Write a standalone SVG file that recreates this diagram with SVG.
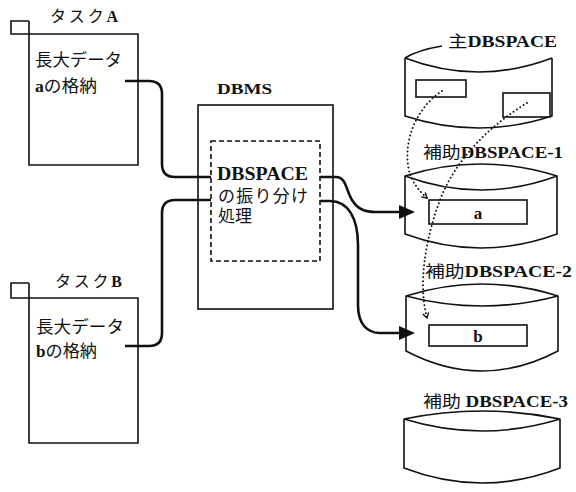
<svg xmlns="http://www.w3.org/2000/svg" width="576" height="492" viewBox="0 0 576 492">
  <style>
    text { font-family: "Liberation Serif", "Noto Sans CJK JP", serif; fill: #111; }
    .lat { font-weight: bold; }
    .box { fill: none; stroke: #111; stroke-width: 1.6; }
    .dash { fill: none; stroke: #111; stroke-width: 1.6; stroke-dasharray: 5 3; }
    .cyl { fill: none; stroke: #111; stroke-width: 1.6; stroke-linejoin: round; }
    .wire { fill: none; stroke: #111; stroke-width: 2.6; }
    .dots { fill: none; stroke: #111; stroke-width: 2; stroke-dasharray: 0 4; stroke-linecap: round; }
  </style>
  <defs>
    <marker id="head" viewBox="0 0 16 14" refX="2" refY="7" markerWidth="16" markerHeight="14" markerUnits="userSpaceOnUse" orient="auto">
      <path d="M0,0 L16,7 L0,14 z" fill="#111"/>
    </marker>
    <marker id="vee" viewBox="0 0 8 8" refX="6" refY="4" markerWidth="8" markerHeight="8" markerUnits="userSpaceOnUse" orient="auto">
      <path d="M1,1 L6,4 L1,7" fill="none" stroke="#111" stroke-width="1.4"/>
    </marker>
  </defs>

  <!-- task A -->
  <g id="taskA">
    <text x="50" y="22" font-size="16" textLength="68" lengthAdjust="spacing">タスク<tspan class="lat">A</tspan></text>
    <path class="box" d="M29,21 H11 V34 H29 M29,21 V165 H138 V34 H29"/>
    <text x="35" y="66" font-size="17" textLength="87" lengthAdjust="spacingAndGlyphs">長大データ</text>
    <text x="35" y="92" font-size="17" textLength="62" lengthAdjust="spacingAndGlyphs"><tspan class="lat">a</tspan>の格納</text>
  </g>

  <!-- task B -->
  <g id="taskB">
    <text x="55" y="287" font-size="16" textLength="67" lengthAdjust="spacing">タスク<tspan class="lat">B</tspan></text>
    <path class="box" d="M29,283 H11 V298 H29 M29,283 V443 H138 V298 H29"/>
    <text x="36" y="333" font-size="17" textLength="88" lengthAdjust="spacingAndGlyphs">長大データ</text>
    <text x="36" y="357" font-size="17" textLength="61" lengthAdjust="spacingAndGlyphs"><tspan class="lat">b</tspan>の格納</text>
  </g>

  <!-- DBMS with distribution step -->
  <g id="dbms">
    <text class="lat" x="217" y="94" font-size="15" textLength="55" lengthAdjust="spacingAndGlyphs">DBMS</text>
    <rect class="box" x="198" y="105" width="135" height="204"/>
    <rect class="dash" x="211" y="141" width="109" height="120"/>
    <text class="lat" x="217" y="180" font-size="18" textLength="91" lengthAdjust="spacingAndGlyphs">DBSPACE</text>
    <text x="218" y="202" font-size="17" textLength="90" lengthAdjust="spacing">の振り分け</text>
    <text x="218" y="222" font-size="17" textLength="34" lengthAdjust="spacing">処理</text>
  </g>

  <!-- primary DBSPACE -->
  <g id="mainSpace">
    <text x="448" y="47" font-size="16" textLength="109" lengthAdjust="spacingAndGlyphs">主<tspan class="lat">DBSPACE</tspan></text>
    <path class="cyl" d="M405,58 Q418,50 442,46"/>
    <path class="cyl" d="M405,58 Q478.5,86 552,58 M405,58 V116 Q478.5,140 552,116 V58"/>
    <rect class="box" x="416" y="80" width="50" height="17"/>
    <rect class="box" x="503" y="93" width="47" height="24"/>
  </g>

  <!-- secondary DBSPACE-1 -->
  <g id="subSpace1">
    <text x="423" y="158" font-size="16" textLength="140" lengthAdjust="spacingAndGlyphs">補助<tspan class="lat">DBSPACE-1</tspan></text>
    <path class="cyl" d="M405,176 Q481,152 557,176 Q481,204 405,176 Z M405,176 V234 Q481,262 557,234 V176"/>
    <rect class="box" x="429" y="200" width="98" height="24"/>
    <text class="lat" x="478" y="219" font-size="17" text-anchor="middle">a</text>
  </g>

  <!-- secondary DBSPACE-2 -->
  <g id="subSpace2">
    <text x="425" y="277" font-size="16" textLength="147" lengthAdjust="spacingAndGlyphs">補助<tspan class="lat">DBSPACE-2</tspan></text>
    <path class="cyl" d="M406,296 Q482,272 558,296 Q482,316 406,296 Z M406,296 V351 Q482,391 558,351 V296"/>
    <rect class="box" x="429" y="325" width="98" height="21"/>
    <text class="lat" x="478" y="342" font-size="17" text-anchor="middle">b</text>
  </g>

  <!-- secondary DBSPACE-3 -->
  <g id="subSpace3">
    <text x="423" y="407" font-size="16" textLength="145" lengthAdjust="spacingAndGlyphs">補助 <tspan class="lat">DBSPACE-3</tspan></text>
    <path class="cyl" d="M404,419 Q482,403 560,419 Q482,443 404,419 Z M404,419 V468 Q482,498 560,468 V419"/>
  </g>

  <!-- connectors -->
  <g id="connectors">
    <path class="wire" d="M125,81 H149 Q162,81 162,94 V164 Q162,177 175,177 H211"/>
    <path class="wire" d="M125,346 H149 Q162,346 162,333 V213 Q162,200 175,200 H211"/>
    <path class="wire" d="M320,177 H336 C346,177 346,190 352,200 C358,210 366,212 376,212 H401" marker-end="url(#head)"/>
    <path class="wire" d="M320,201 H330 C348,201 358,218 358,245 V305 C358,325 368,333 380,333 H401" marker-end="url(#head)"/>
    <path class="dots" d="M442,91 C420,105 404,135 408,165 C410,180 418,190 427,198" marker-end="url(#vee)"/>
    <path class="dots" d="M527,103 C490,125 455,160 440,200 C425,240 418,285 427,318" marker-end="url(#vee)"/>
  </g>
</svg>
